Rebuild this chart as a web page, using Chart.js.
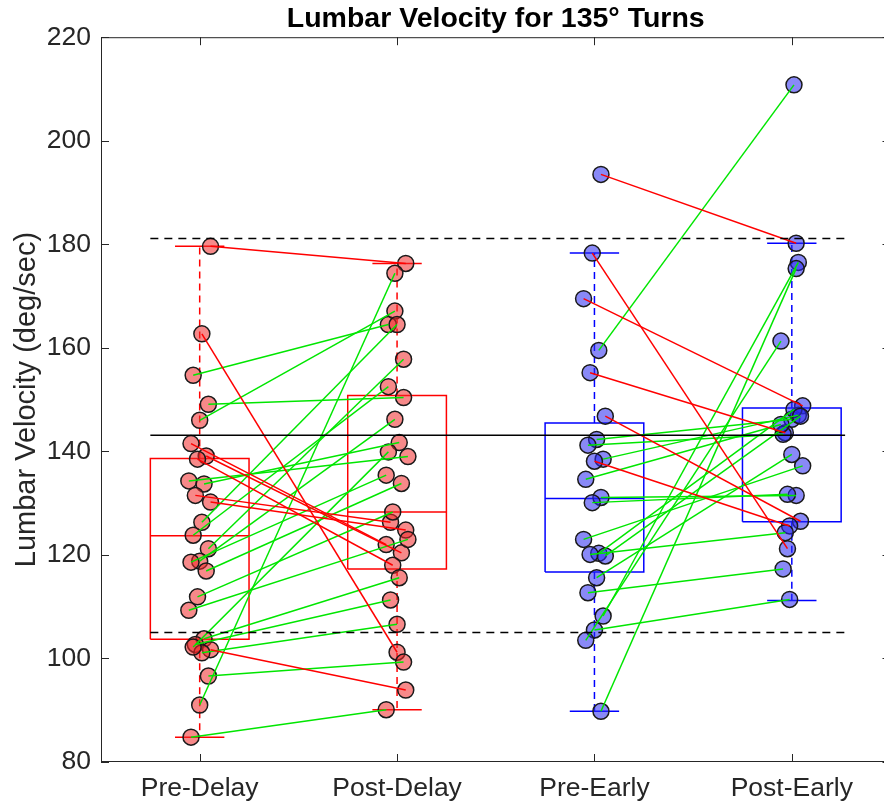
<!DOCTYPE html>
<html>
<head>
<meta charset="utf-8">
<script src="https://cdn.jsdelivr.net/npm/chart.js@4.4.0/dist/chart.umd.min.js"></script>
<style>
html, body { margin: 0; padding: 0; background: #fff; overflow: hidden; }
#caixa { width: 900px; height: 804px; }
</style>
</head>
<body>
<div id="caixa"><canvas id="grafico"></canvas></div>
<script>
const categorias = ['Pre-Delay', 'Post-Delay', 'Pre-Early', 'Post-Early'];

// each index i is one subject: pre[i] -> post[i]
const preDelay  = [179.6, 162.7, 154.7, 149.1, 146.0, 141.5, 139.1, 138.5, 134.3, 133.7, 131.5, 130.2, 126.3, 123.8,
                   121.2, 118.8, 118.6, 116.9, 111.9, 109.3, 103.8, 102.7, 101.7, 101.1, 102.2, 96.6, 91.0, 84.8];
const postDelay = [176.3, 101.2, 164.5, 150.4, 167.1, 122.0, 120.4, 118.0, 139.0, 141.7, 126.3, 124.8, 164.5, 152.5,
                   157.8, 146.2, 135.4, 133.8, 128.3, 123.0, 115.6, 111.3, 93.9, 106.6, 139.9, 99.3, 174.4, 90.1];
const preEarly  = [193.5, 178.3, 169.5, 159.5, 155.2, 146.8, 142.3, 141.2, 138.5, 138.1, 134.6, 131.1, 130.1, 123.0,
                   120.3, 120.1, 119.8, 115.6, 112.7, 108.2, 105.5, 103.5, 89.8];
const postEarly = [180.2, 121.2, 148.8, 210.8, 143.6, 126.5, 146.2, 143.3, 147.0, 125.6, 145.2, 131.5, 131.7, 137.2,
                   148.1, 124.3, 146.8, 139.4, 117.3, 176.5, 111.4, 161.3, 175.3];

// box stats: [lower whisker, q1, median, q3, upper whisker]
const boxPreDelay  = [84.8, 103.7, 123.7, 138.6, 179.6];
const boxPostDelay = [90.1, 117.3, 128.3, 150.8, 176.3];
const boxPreEarly  = [89.8, 116.7, 130.9, 145.5, 178.3];
const boxPostEarly = [111.2, 126.4, 143.1, 148.4, 180.2];

// reference lines
const linhaMedia = 143.1;
const linhaSup = 181.1;
const linhaInf = 105.0;

const yMin = 80, yMax = 220, yPasso = 20;

const grupos = [
  { x: 1, valores: preDelay,  caixa: boxPreDelay,  cor: '#ff0000', ponto: 'rgba(240,40,40,0.55)' },
  { x: 2, valores: postDelay, caixa: boxPostDelay, cor: '#ff0000', ponto: 'rgba(240,40,40,0.55)' },
  { x: 3, valores: preEarly,  caixa: boxPreEarly,  cor: '#0000ff', ponto: 'rgba(40,40,240,0.55)' },
  { x: 4, valores: postEarly, caixa: boxPostEarly, cor: '#0000ff', ponto: 'rgba(40,40,240,0.55)' }
];

function jitter(i, g) {
  return (((i + g * 3) * 7) % 11 - 5) * 0.011;
}

function seg(pts, cor, tracejado, ordem) {
  return {
    data: pts.map(p => ({ x: p[0], y: p[1] })),
    showLine: true,
    borderColor: cor,
    borderWidth: 1.5,
    borderDash: tracejado || [],
    pointRadius: 0,
    fill: false,
    tension: 0,
    order: ordem
  };
}

const datasets = [];

// reference lines on top
datasets.push(seg([[0.75, linhaMedia], [4.27, linhaMedia]], '#000000', [], 0));
datasets.push(seg([[0.75, linhaSup], [4.27, linhaSup]], '#000000', [8, 6], 0));
datasets.push(seg([[0.75, linhaInf], [4.27, linhaInf]], '#000000', [8, 6], 0));

// pre -> post lines
[[0, 1], [2, 3]].forEach(([a, b]) => {
  const ga = grupos[a], gb = grupos[b];
  ga.valores.forEach((v, i) => {
    const w = gb.valores[i];
    const cor = w > v ? '#00e600' : '#ff0000';
    datasets.push(seg([[ga.x + jitter(i, ga.x), v], [gb.x + jitter(i, gb.x), w]], cor, [], 1));
  });
});

// points
grupos.forEach(g => {
  datasets.push({
    data: g.valores.map((v, i) => ({ x: g.x + jitter(i, g.x), y: v })),
    showLine: false,
    pointRadius: 8,
    pointBackgroundColor: g.ponto,
    pointBorderColor: '#1a1a1a',
    pointBorderWidth: 1.5,
    order: 2
  });
});

// boxes
grupos.forEach(g => {
  const [lo, q1, med, q3, hi] = g.caixa;
  const x = g.x, w = 0.25, c = 0.125;
  datasets.push(seg([[x - w, q1], [x + w, q1], [x + w, q3], [x - w, q3], [x - w, q1]], g.cor, [], 3));
  datasets.push(seg([[x - w, med], [x + w, med]], g.cor, [], 3));
  datasets.push(seg([[x, q3], [x, hi]], g.cor, [7, 5], 3));
  datasets.push(seg([[x, q1], [x, lo]], g.cor, [7, 5], 3));
  datasets.push(seg([[x - c, hi], [x + c, hi]], g.cor, [], 3));
  datasets.push(seg([[x - c, lo], [x + c, lo]], g.cor, [], 3));
});

const moldura = {
  id: 'moldura',
  afterDraw(chart) {
    const { ctx, chartArea: a, scales: { x, y } } = chart;
    ctx.save();
    ctx.strokeStyle = '#262626';
    ctx.lineWidth = 1;
    ctx.strokeRect(a.left + 0.5, a.top + 0.5, a.right - a.left - 1, a.bottom - a.top - 1);
    ctx.beginPath();
    y.ticks.forEach(t => {
      const py = Math.round(y.getPixelForValue(t.value)) + 0.5;
      ctx.moveTo(a.left, py); ctx.lineTo(a.left + 8, py);
      ctx.moveTo(a.right, py); ctx.lineTo(a.right - 8, py);
    });
    x.ticks.forEach(t => {
      const px = Math.round(x.getPixelForValue(t.value)) + 0.5;
      ctx.moveTo(px, a.bottom); ctx.lineTo(px, a.bottom - 8);
      ctx.moveTo(px, a.top); ctx.lineTo(px, a.top + 8);
    });
    ctx.stroke();
    ctx.restore();
  }
};

const fonte = 'Liberation Sans, Arial, Helvetica, sans-serif';

new Chart(document.getElementById('grafico'), {
  type: 'scatter',
  data: { datasets },
  plugins: [moldura],
  options: {
    responsive: true,
    maintainAspectRatio: false,
    animation: false,
    events: [],
    layout: { padding: { left: 0, right: 8, top: 0, bottom: 0 } },
    plugins: {
      legend: { display: false },
      tooltip: { enabled: false },
      title: {
        display: true,
        fullSize: false,
        text: 'Lumbar Velocity for 135° Turns',
        color: '#000000',
        font: { family: fonte, size: 28.5, weight: 'bold', lineHeight: 1.2 },
        padding: { top: 2, bottom: 1 }
      }
    },
    scales: {
      x: {
        type: 'linear',
        min: 0.5,
        max: 4.5,
        grid: { display: false, drawTicks: false },
        border: { display: false },
        afterBuildTicks: axis => { axis.ticks = categorias.map((c, i) => ({ value: i + 1 })); },
        afterFit: s => { s.height = 42; },
        ticks: {
          color: '#262626',
          font: { family: fonte, size: 26.5 },
          padding: 11,
          maxRotation: 0,
          autoSkip: false,
          callback: v => categorias[v - 1] || ''
        }
      },
      y: {
        min: yMin,
        max: yMax,
        grid: { display: false, drawTicks: false },
        border: { display: false },
        afterFit: s => { s.width = 101; },
        title: {
          display: true,
          text: 'Lumbar Velocity (deg/sec)',
          color: '#262626',
          font: { family: fonte, size: 29 },
          padding: { top: 10, bottom: 0 }
        },
        ticks: {
          stepSize: yPasso,
          color: '#262626',
          font: { family: fonte, size: 26.5 },
          padding: 10
        }
      }
    }
  }
});
</script>
</body>
</html>
